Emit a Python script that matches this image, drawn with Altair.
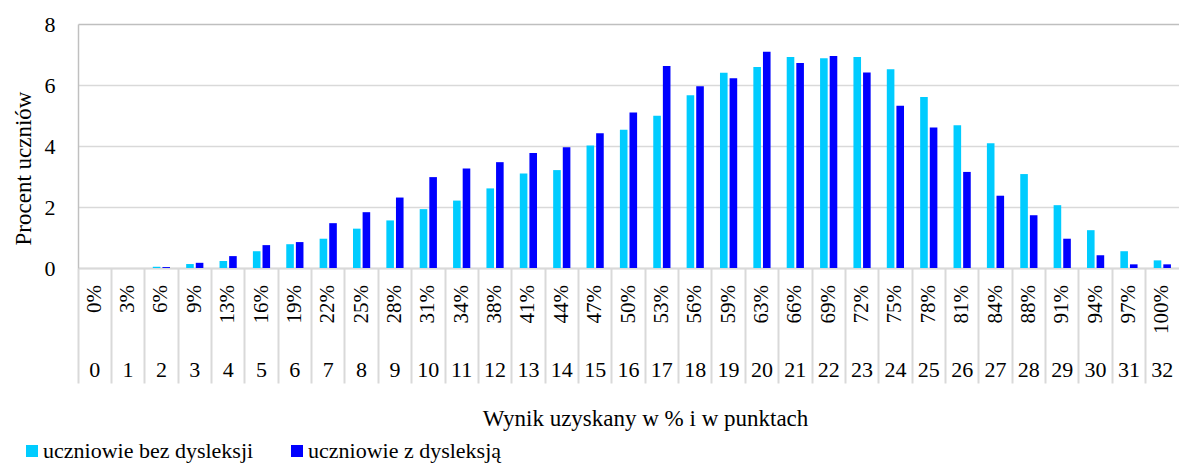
import altair as alt
import pandas as pd

points = list(range(33))
pct_labels = ["0%", "3%", "6%", "9%", "13%", "16%", "19%", "22%", "25%", "28%",
              "31%", "34%", "38%", "41%", "44%", "47%", "50%", "53%", "56%", "59%",
              "63%", "66%", "69%", "72%", "75%", "78%", "81%", "84%", "88%", "91%",
              "94%", "97%", "100%"]
bez_dysleksji = [0, 0, 0.04, 0.13, 0.23, 0.55, 0.78, 0.96, 1.29, 1.56, 1.93, 2.21,
                 2.61, 3.10, 3.21, 4.02, 4.53, 4.99, 5.66, 6.40, 6.59, 6.92, 6.88,
                 6.92, 6.52, 5.61, 4.68, 4.09, 3.08, 2.06, 1.24, 0.55, 0.25]
z_dysleksja = [0, 0, 0.03, 0.17, 0.39, 0.75, 0.85, 1.47, 1.83, 2.31, 2.98, 3.26,
               3.47, 3.77, 3.96, 4.42, 5.10, 6.62, 5.96, 6.22, 7.09, 6.72, 6.95,
               6.41, 5.32, 4.61, 3.15, 2.37, 1.73, 0.96, 0.42, 0.12, 0.12]
series_names = ["uczniowie bez dysleksji", "uczniowie z dysleksją"]
colors = ["#00CCFF", "#0000FF"]
y_ticks = [0, 2, 4, 6, 8]

rows = []
for p, a, b in zip(points, bez_dysleksji, z_dysleksja):
    rows.append({"point": p, "series": series_names[0], "value": a})
    rows.append({"point": p, "series": series_names[1], "value": b})
df = pd.DataFrame(rows)
lab = pd.DataFrame({"point": points, "pct": pct_labels})

W = 1101
H = 244
FONT = "Liberation Serif"

xaxis = alt.Axis(
    labels=False, bandPosition=0, ticks=True, tickSize=115, tickColor="#d9d9d9",
    tickWidth=2, domainColor="#d9d9d9", domainWidth=2, grid=False,
    title="Wynik uzyskany w % i w punktach", titleFont=FONT, titleFontSize=23,
    titleFontWeight="normal", titleColor="black", titleX=567, titleY=150,
    titleBaseline="middle", titleAlign="center",
)
xenc = alt.X("point:O", scale=alt.Scale(paddingInner=0, paddingOuter=0), axis=xaxis)

yaxis = alt.Axis(
    values=y_ticks, ticks=False, tickSize=0, labelPadding=23, labelFont=FONT,
    labelFontSize=22, labelColor="black", domain=True, domainColor="#c0c0c0",
    domainWidth=1.5, grid=True,
    gridColor={"condition": {"test": "datum.value === 8", "value": "#bfbfbf"}, "value": "#d9d9d9"},
    gridWidth=1.5, title="Procent uczniów", titleFont=FONT, titleFontSize=23,
    titleFontWeight="normal", titleColor="black", titleAngle=270, titleX=-55,
    titleY=144, titleBaseline="middle", titleAlign="center",
)

bars = alt.Chart(df).mark_bar().encode(
    x=xenc,
    xOffset=alt.XOffset("series:N", sort=series_names,
                        scale=alt.Scale(paddingInner=0.21, paddingOuter=0.84)),
    y=alt.Y("value:Q", scale=alt.Scale(domain=[0, 8], nice=False), axis=yaxis),
    color=alt.Color(
        "series:N", sort=series_names,
        scale=alt.Scale(domain=series_names, range=colors),
        legend=alt.Legend(
            orient="none", legendX=-57, legendY=416, direction="horizontal",
            title=None, symbolType="square", symbolSize=144, symbolStrokeWidth=0,
            labelFont=FONT, labelFontSize=22, labelColor="black", labelOffset=0,
            columnPadding=32, labelLimit=0, padding=0,
        ),
    ),
)

pct_text = alt.Chart(lab).mark_text(
    angle=270, align="right", baseline="middle", font=FONT, fontSize=21, color="black"
).encode(x=xenc, y=alt.value(H + 17), text="pct:N")

num_text = alt.Chart(lab).mark_text(
    align="center", baseline="middle", font=FONT, fontSize=22, color="black"
).encode(x=xenc, y=alt.value(H + 102), text="point:O")

chart = alt.layer(bars, pct_text, num_text).properties(
    width=W, height=H,
    padding={"left": 70, "top": 16, "right": 0, "bottom": 195},
    autosize=alt.AutoSizeParams(type="none"),
).configure_view(stroke="transparent")

chart.save("out.html", embed_options={"renderer": "svg", "actions": False})
